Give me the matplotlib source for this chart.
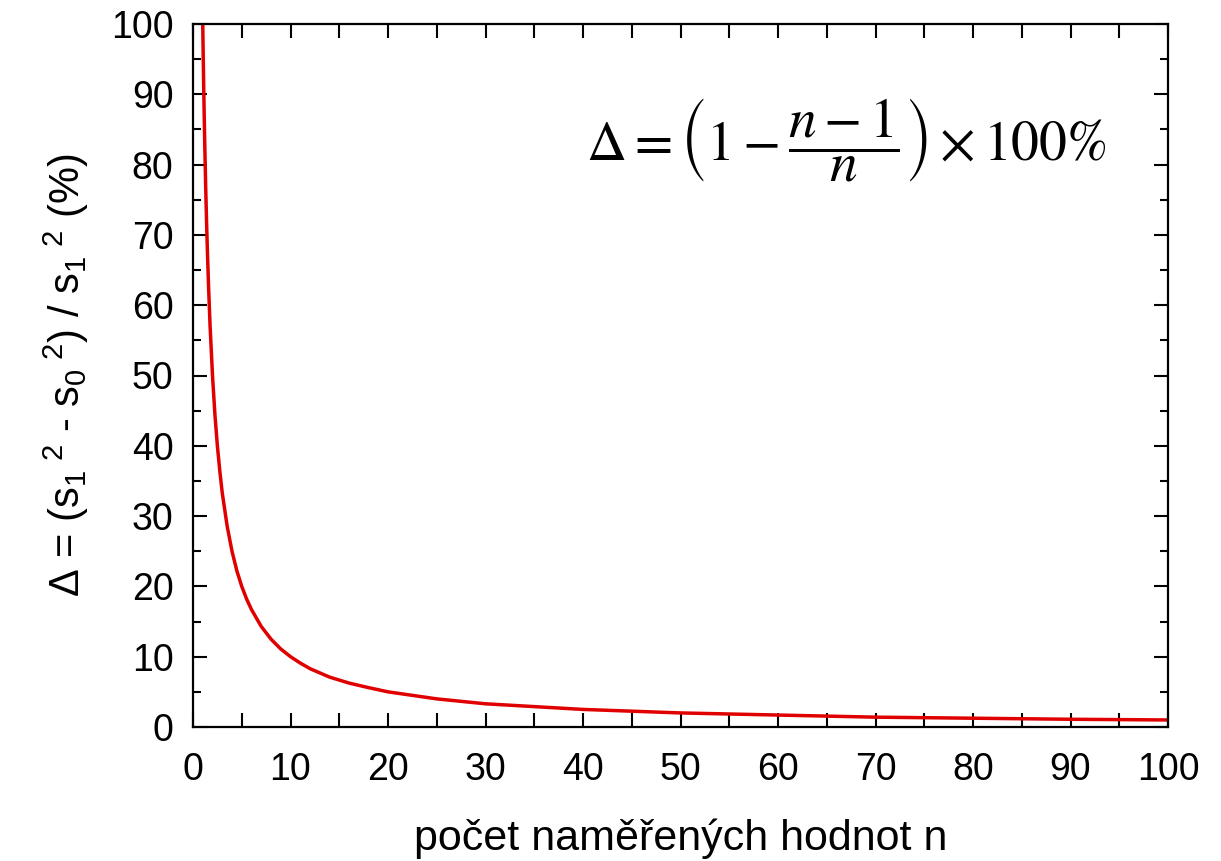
import matplotlib.pyplot as plt
from matplotlib.ticker import MultipleLocator

plt.rcParams['font.family'] = ['Liberation Sans', 'DejaVu Sans']
plt.rcParams['mathtext.fontset'] = 'custom'
plt.rcParams['mathtext.rm'] = 'Liberation Sans'
plt.rcParams['mathtext.it'] = 'Liberation Sans:italic'

# values (n, delta in %)
n_vals = [1, 1.05, 1.1, 1.15, 1.2, 1.3, 1.4, 1.5, 1.6, 1.75, 2, 2.25, 2.5, 2.75, 3,
          3.5, 4, 4.5, 5, 5.5, 6, 7, 8, 9, 10, 11, 12, 14, 16, 18, 20, 25, 30, 35,
          40, 50, 60, 70, 80, 90, 100]
delta = [100, 95.2, 90.9, 87, 83.3, 76.9, 71.4, 66.7, 62.5, 57.1, 50, 44.4, 40,
         36.4, 33.3, 28.6, 25, 22.2, 20, 18.2, 16.7, 14.3, 12.5, 11.1, 10, 9.1,
         8.3, 7.1, 6.25, 5.6, 5, 4, 3.3, 2.9, 2.5, 2, 1.7, 1.4, 1.25, 1.1, 1]

fig = plt.figure(figsize=(12.21, 8.61), dpi=100)
ax = fig.add_axes([193 / 1221, 1 - 727 / 861, 975 / 1221, 703 / 861])

ax.plot(n_vals, delta, color='#e00000', linewidth=2.5)

ax.set_xlim(0, 100)
ax.set_ylim(0, 100)
ax.xaxis.set_major_locator(MultipleLocator(10))
ax.yaxis.set_major_locator(MultipleLocator(10))
ax.xaxis.set_minor_locator(MultipleLocator(5))
ax.yaxis.set_minor_locator(MultipleLocator(5))
ax.tick_params(which='both', direction='in', top=True, right=True,
               labelsize=27, width=1.5)
ax.tick_params(axis='x', pad=18)
ax.tick_params(axis='y', pad=14)
ax.tick_params(which='major', length=10)
ax.tick_params(axis='x', which='minor', length=10)
ax.tick_params(axis='y', which='minor', length=6)
for sp in ax.spines.values():
    sp.set_linewidth(1.6)

ax.set_xlabel('počet naměřených hodnot n', fontsize=31, labelpad=22)
ax.set_ylabel(r'Δ = (s$\mathregular{_1}$$\mathregular{^{\ 2}}$ - s$\mathregular{_0}$$\mathregular{^{\ 2}}$)'
              r' / s$\mathregular{_1}$$\mathregular{^{\ 2}}$ (%)', fontsize=30, labelpad=14)

ax.text(0.67, 0.835, r'$\Delta = \left(1 - \dfrac{n-1}{n}\right) \times 100\%$',
        transform=ax.transAxes, fontsize=40, ha='center', va='center',
        math_fontfamily='stix')

fig.savefig('out.png', dpi=100)
